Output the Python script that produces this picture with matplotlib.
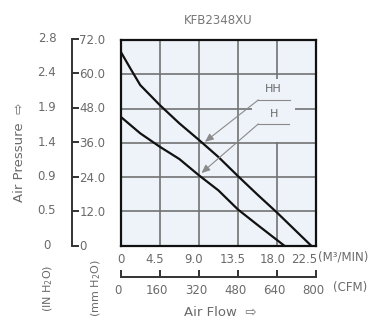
import matplotlib
matplotlib.use("Agg")
import matplotlib.pyplot as plt
import numpy as np
from matplotlib.patches import Rectangle
from matplotlib.transforms import ScaledTranslation, blended_transform_factory

# data (mm H2O vs m3/min)
hh_flow = [0, 1.1, 2.25, 4.5, 6.75, 9, 11.25, 13.5, 15.75, 18, 20, 21.9]
hh_pressure = [67.9, 62.1, 56.2, 49.2, 42.8, 37.0, 31.0, 24.3, 17.8, 11.5, 5.6, 0]
h_flow = [0, 2.25, 4.5, 6.75, 9, 11.25, 13.5, 15.75, 18.8]
h_pressure = [45.1, 39.3, 34.6, 30.3, 24.6, 19.3, 12.6, 7.2, 0]

m3_ticks = [0, 4.5, 9.0, 13.5, 18.0, 22.5]
m3_labels = ["0", "4.5", "9.0", "13.5", "18.0", "22.5"]
cfm_ticks = [0, 160, 320, 480, 640, 800]
mm_ticks = [0, 12, 24, 36, 48, 60, 72]
mm_labels = ["0", "12.0", "24.0", "36.0", "48.0", "60.0", "72.0"]
in_labels = ["0", "0.5", "0.9", "1.4", "1.9", "2.4", "2.8"]

TEXT = "#6a6a6a"
BG = "#eef3f9"
W, H = 388, 321

plt.rcParams["font.family"] = ["DejaVu Sans"]

fig = plt.figure(figsize=(W / 100, H / 100), dpi=100)


def fx(px):
    return px / W


def fy(py):
    return 1 - py / H


# main plot box
ax = fig.add_axes([fx(120.7), fy(245.5), 195.5 / W, 205.5 / H])
ax.set_facecolor(BG)
ax.set_xlim(0, 22.5)
ax.set_ylim(0, 72)
ax.set_xticks(m3_ticks)
ax.set_yticks(mm_ticks)
ax.set_xticklabels(m3_labels, fontsize=8.5, color=TEXT)
ax.set_yticklabels([])
ax.tick_params(axis="both", length=0)
ax.tick_params(axis="x", pad=5.5)
xlabels = ax.get_xticklabels()
for i, lbl in enumerate(xlabels):
    dx = 0 if i == 0 else -3.5
    if i == len(xlabels) - 1:
        lbl.set_ha("right")
        dx = 1
    lbl.set_transform(lbl.get_transform() + ScaledTranslation(dx / 72, 0, fig.dpi_scale_trans))
ax.set_axisbelow(True)
ax.grid(True, color="#727272", linewidth=1.2)
for sp in ax.spines.values():
    sp.set_color("#111111")
    sp.set_linewidth(1.6)

# blank patch behind the labels
ax.add_patch(Rectangle((15.1, 36.4), 5.0, 22.0, facecolor=BG, edgecolor="none", zorder=1))

ax.plot(hh_flow, hh_pressure, color="#111111", linewidth=1.6, zorder=3)
ax.plot(h_flow, h_pressure, color="#111111", linewidth=1.6, zorder=3)

# leader lines
leader = dict(arrowstyle="-|>,head_length=0.5,head_width=0.22", color="#8a8a8a", lw=0.8,
              shrinkA=0, shrinkB=0)
ax.plot([15.84, 19.5], [51.0, 51.0], color="#8a8a8a", lw=0.8, zorder=2)
ax.annotate("", xy=(9.7, np.interp(9.7, hh_flow, hh_pressure) + 1.2), xytext=(15.84, 51.0),
            arrowprops=leader, zorder=4)
ax.text(17.6, 53.0, "HH", fontsize=8, color=TEXT, ha="center", va="bottom")
ax.plot([15.84, 19.4], [42.6, 42.6], color="#8a8a8a", lw=0.8, zorder=2)
ax.annotate("", xy=(9.3, np.interp(9.3, h_flow, h_pressure) + 1.5), xytext=(15.84, 42.6),
            arrowprops=leader, zorder=4)
ax.text(17.6, 44.4, "H", fontsize=8, color=TEXT, ha="center", va="bottom")

ax.text(0.5, 1.0 + 13 / 205.5, "KFB2348XU", transform=ax.transAxes, fontsize=8.5,
        color="#777777", ha="center", va="bottom")

# mm H2O scale
ax_mm = fig.add_axes([fx(71.7), fy(245.5), 0.0001, 207 / H])
ax_mm.set_ylim(0, 72)
ax_mm.set_xticks([])
for side in ("top", "bottom", "left"):
    ax_mm.spines[side].set_visible(False)
ax_mm.spines["right"].set_color("#333333")
ax_mm.spines["right"].set_linewidth(1.4)
ax_mm.yaxis.tick_right()
ax_mm.set_yticks(mm_ticks)
ax_mm.set_yticklabels(mm_labels, fontsize=8.5, color=TEXT)
ax_mm.tick_params(axis="y", direction="out", length=5, width=1.4, color="#333333", pad=0.5)
ax_mm.patch.set_visible(False)

# inch H2O labels
tr = blended_transform_factory(fig.transFigure, ax_mm.transData)
for val, lbl in zip(mm_ticks, in_labels):
    fig.text(fx(47), val, lbl, transform=tr, fontsize=8.5, color=TEXT, ha="center", va="center")

# CFM scale
ax_cfm = fig.add_axes([fx(120.7), fy(276.7), 195.5 / W, 0.0001])
ax_cfm.set_xlim(0, 800)
ax_cfm.set_yticks([])
for side in ("top", "left", "right"):
    ax_cfm.spines[side].set_visible(False)
ax_cfm.spines["bottom"].set_color("#333333")
ax_cfm.spines["bottom"].set_linewidth(1.4)
ax_cfm.set_xticks(cfm_ticks)
ax_cfm.set_xticklabels([str(v) for v in cfm_ticks], fontsize=8.5, color=TEXT)
ax_cfm.tick_params(axis="x", direction="in", length=5, width=1.4, color="#333333", pad=5)
shift2 = ScaledTranslation(-2 / 72, 0, fig.dpi_scale_trans)
for lbl in ax_cfm.get_xticklabels():
    lbl.set_transform(lbl.get_transform() + shift2)
ax_cfm.patch.set_visible(False)

# unit texts and axis titles
fig.text(fx(318), fy(257.5), "(M³/MIN)", fontsize=8.5, color=TEXT, ha="left", va="center")
fig.text(fx(333), fy(287.5), "(CFM)", fontsize=8.5, color=TEXT, ha="left", va="center")
fig.text(fx(220), fy(312), "Air Flow  \u21e8", fontsize=9.5, color=TEXT, ha="center", va="center")
fig.text(fx(20), fy(152), "Air Pressure  \u21e8", fontsize=9.5, color=TEXT, ha="center",
         va="center", rotation=90)
fig.text(fx(48), fy(288), "(IN H$_2$O)", fontsize=8, color=TEXT, ha="center", va="center",
         rotation=90)
fig.text(fx(96), fy(288), "(mm H$_2$O)", fontsize=8, color=TEXT, ha="center", va="center",
         rotation=90)

fig.savefig("out.png", dpi=100, facecolor="white")
